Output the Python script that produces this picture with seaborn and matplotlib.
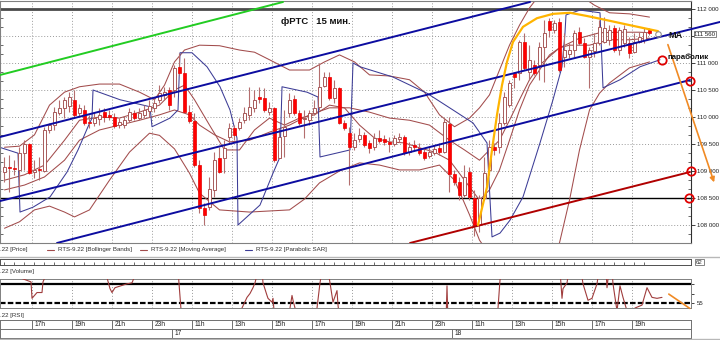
import matplotlib
matplotlib.use("Agg")
import matplotlib.pyplot as plt
import numpy as np
import seaborn as sns
from matplotlib.lines import Line2D

# ---------------- data (15-min candles, RTS-9.22) ----------------
opens = [108980,109070,109060,109020,109330,109500,108980,109020,109000,109760,
         109850,110070,110170,110200,110320,110070,110130,109900,109890,109960,
         110090,110040,110000,109850,109850,109940,110070,109980,110040,110110,
         110170,110320,110410,110500,110500,110930,110820,110090,109930,109110,
         108320,108330,108650,109240,109240,109630,109800,109800,109940,110040,
         110170,110370,110350,110090,110170,109240,109650,110070,110330,110070,
         109960,109940,110070,110190,110570,110740,110350,110540,109890,109700,
         109440,109590,109670,109520,109440,109610,109590,109540,109500,109590,
         109630,109350,109480,109430,109350,109280,109330,109430,109350,109870,
         108940,108800,108560,108980,108500,108000,108500,109020,109440,109440,
         109890,110220,110820,110820,111390,110830,110960,110960,111300,111780,
         111610,111760,111110,111160,111240,111570,111370,111110,111220,111370,
         111390,111430,111650,111240,111370,111370,111200,111390,111430,111610]
highs = [109260,109300,109200,109440,109570,109520,109200,109260,109820,109890,
         110190,110320,110370,110460,110500,110240,110220,110040,110090,110170,
         110170,110130,110070,109980,110020,110170,110130,110170,110220,110320,
         110370,110590,110560,110560,110960,111190,111090,110220,110070,109200,
         108410,108890,109350,109440,109570,109890,109850,109980,110190,110560,
         110500,110560,110540,110280,110190,109800,110130,110440,110410,110130,
         110130,110130,110320,111000,110830,110830,110690,110560,109940,109820,
         109700,109800,109720,109570,109700,109760,109670,109630,109670,109700,
         109670,109540,109570,109520,109430,109440,109480,109520,109980,110000,
         109020,108890,109110,109070,108650,108560,109260,109570,109520,110070,
         110460,110690,110830,111430,111560,111330,111060,111390,111800,111830,
         111800,111830,111560,111370,111610,111670,111460,111300,111560,111800,
         111850,111700,111700,111670,111700,111480,111560,111570,111650,111650]
lows = [108800,108610,108930,108700,109020,108940,108870,108830,108980,109700,
        109760,110040,109980,110090,110000,110020,109850,109800,109830,109850,
        109910,109940,109800,109800,109800,109910,109940,109940,109980,110000,
        110090,110260,110320,110130,110370,110780,110070,109890,109070,108220,
        108000,108280,108520,108960,108960,109520,109570,109760,109890,109940,
        110090,110260,110090,110040,109170,109240,109260,110000,110040,109850,
        109610,109850,110040,110130,110560,110320,110260,109870,109760,108740,
        109390,109540,109440,109330,109390,109520,109480,109350,109460,109540,
        109300,109300,109390,109300,109200,109240,109300,109300,109330,108610,
        108740,108460,108520,108460,107800,107870,108460,108930,109300,109330,
        109850,110190,110540,110690,110870,110690,110780,110690,110650,111480,
        111560,110830,110930,111090,111110,111330,111090,110540,111110,111330,
        111370,111330,111200,111150,111300,111090,111190,111370,111370,111520]
closes = [109070,109060,109040,109330,109500,108960,109020,109010,109760,109850,
          110090,110170,110320,110370,110040,110170,109890,109880,109980,110040,
          110000,110000,109830,109910,109940,110090,109980,110070,110130,110200,
          110260,110440,110460,110220,110910,110820,110090,109930,109110,108320,
          108190,108670,109200,108980,109430,109800,109670,109910,110070,110190,
          110320,110330,110130,110170,109200,109630,109820,110320,110070,109890,
          109980,110070,110170,110560,110740,110350,110540,109890,109800,109440,
          109570,109670,109480,109430,109610,109560,109530,109500,109610,109630,
          109330,109440,109440,109330,109240,109350,109410,109350,109910,108940,
          108800,108560,108890,108520,108000,108500,108960,109440,109390,109890,
          110370,110630,110740,111390,110910,111060,110820,111300,111560,111610,
          111740,110870,111240,111240,111560,111370,111110,111240,111370,111670,
          111650,111610,111240,111610,111630,111190,111390,111480,111570,111560]

# Bollinger bands / moving average / parabolic SAR
ub_k = [0, 3, 6, 9, 12, 15, 19, 23, 27, 30, 32, 34, 36, 39, 43, 47, 50, 53, 57, 61, 64, 67,
        70, 73, 77, 81, 84, 87, 90, 93, 95, 97, 99, 101, 103, 105, 107, 111, 115, 118, 121, 125, 129]
ub_v = [109440, 109460, 109670, 110220, 110460, 110560, 110610, 110610, 110460, 110320, 110590,
        111020, 111240, 111330, 111320, 111240, 111200, 111060, 110870, 110870, 111020, 111150,
        111020, 110780, 110760, 110690, 110460, 110040, 109820, 109980, 110170, 110410, 110870,
        111330, 111700, 112020, 112260, 112350, 112260, 112070, 111930, 111910, 111850]
mb_k = [0, 4, 8, 12, 15, 19, 23, 27, 31, 34, 37, 39, 42, 45, 49, 53, 57, 61, 65, 69, 73, 77,
        81, 85, 89, 92, 95, 97, 99, 101, 103, 105, 107, 111, 115, 119, 123, 127, 129]
mb_v = [108650, 108740, 108890, 109200, 109570, 109760, 109850, 109940, 110040, 110130, 110040,
        109850, 109670, 109540, 109570, 109720, 109850, 110040, 110170, 110170, 110090, 109980,
        109940, 109850, 109570, 109390, 109200, 109390, 109570, 109940, 110320, 110690, 110960,
        111280, 111460, 111560, 111570, 111570, 111560]
lb_k = [0, 3, 6, 9, 12, 14, 17, 21, 25, 29, 31, 34, 37, 39, 43, 49, 53, 57, 60, 63, 67, 71,
        75, 79, 83, 87, 90, 93, 95, 97, 101, 105, 109, 111, 113, 115, 117, 119, 121, 125, 129]
lb_v = [107940, 108060, 108280, 108350, 108240, 108150, 108280, 108830, 109350, 109700, 109660,
        109410, 108960, 108590, 108280, 108240, 108260, 108280, 108480, 108780, 109000, 109150,
        109110, 109020, 109020, 109110, 108830, 108190, 107720, 107450, 107260, 107170,
        107350, 107670, 108460, 109390, 110130, 110440, 110630, 110910, 111020]
ma_k = [0, 4, 8, 12, 15, 19, 23, 27, 31, 34, 36, 38, 41, 44, 47, 50, 53, 56, 59, 62, 65, 68,
        71, 74, 77, 80, 83, 86, 89, 92, 95, 97, 99, 101, 103, 105, 107, 109, 111, 113, 117, 121, 125, 129]
ma_v = [108830, 108930, 109110, 109570, 109940, 110000, 109980, 110090, 110220, 110500, 110590,
        110320, 109850, 109390, 109390, 109760, 109980, 109850, 109980, 110040, 110220, 110170,
        109850, 109610, 109540, 109520, 109430, 109350, 109200, 108830, 108460, 108650, 109020,
        109570, 110130, 110590, 110870, 111150, 111280, 111330, 111330, 111430, 111430, 111460]
sar_k = [-1, 2.7, 3.1, 5.7, 9.1, 12.5, 14.7, 16.7, 17.5, 17.7, 23.1, 29.1, 29.5, 31.1, 33.1,
         34.7, 35.1, 37.5, 40.5, 43.1, 45.1, 46.5, 46.7, 51.1, 53.7, 55.1, 55.5, 60.5, 62.7,
         63.1, 69.1, 69.7, 71.1, 77.7, 84.5, 89.7, 93.7, 96.5, 97.5, 99.1, 101.1, 103.7, 107.1,
         109.7, 111.5, 112.1, 112.3, 115.1, 119.1, 119.7, 123.1, 127.1, 131.1]
sar_v = [109440, 109330, 108240, 108330, 108520, 108980, 109390, 109820, 109980, 110500, 110320,
         110190, 109820, 109890, 109980, 110130, 111190, 111190, 110930, 110560, 110130, 109610,
         108000, 108370, 108960, 109260, 110560, 110460, 110370, 109260, 109390, 111000, 110930,
         110740, 110440, 110130, 109890, 109520, 107780, 107850, 108090, 108520, 109520, 110320,
         110930, 111560, 111890, 111980, 111930, 110540, 110690, 110930, 111060]

# lower indicator panel
rsi_k = [-0.9, 5.3, 5.5, 6.5, 7.5, 7.7, 8.7, 20.1, 21.1, 21.5, 22.1, 24.5, 25.5, 26.5, 34.7,
         35.5, 47.1, 47.5, 48.5, 49.1, 49.7, 50.1, 50.7, 51.5, 51.7, 52.5, 52.7, 53.5, 53.7, 54.1,
         56.7, 57.1, 57.5, 57.7, 58.1, 58.5, 62.1, 62.5, 63.1, 63.5, 64.7, 65.1, 65.7, 66.5, 66.7,
         67.1, 88.3, 88.5, 88.7, 98.5, 99.1, 99.7, 111.1, 111.5, 111.7, 112.5, 112.9, 115.3, 115.7,
         116.7, 117.5, 118.5, 118.9, 120.3, 120.5, 120.9, 121.5, 121.7, 122.5, 123.1, 123.7, 124.5,
         125.3, 126.1, 127.5, 128.5, 129.5, 130.5, 131.5]
rsi_v = [72, 66, 57.5, 60.5, 60.5, 66, 72, 72, 62.5, 60.5, 63, 65, 65.5, 72, 72,
         45, 45, 52.5, 58, 60, 63, 65.5, 72, 72, 65.5, 59, 57.5, 55.5, 57.5, 45,
         45, 52.5, 59, 56.5, 52.5, 48, 48, 52.5, 65.5, 72, 72, 65.5, 55.5, 61.5, 54,
         45, 45, 64, 45, 45, 67, 72, 72, 57.5, 62.5, 65.5, 72, 72, 65,
         56.5, 57.5, 65, 72, 72, 63, 72, 72, 65, 51, 64, 58, 51,
         48, 52.5, 54, 63, 58, 57.5, 58]

time_labels = ["17h", "19h", "21h", "23h", "11h", "13h", "15h", "17h",
               "19h", "21h", "23h", "11h", "13h", "15h", "17h", "19h"]
day_labels = ["17", "18"]
price_ticks = [108000, 108500, 109000, 109500, 110000, 110500, 111000, 111500, 112000]
last_price = 111560

# hand-drawn annotations (candle index, price)
arc_k = [94.7, 96.5, 97.5, 98.5, 99.5, 100.5, 101.7, 103.7, 106.5, 109.7, 113.1, 116.5, 119.1, 125.1, 130.7]
arc_v = [108000, 108700, 109390, 110040, 110590, 111020, 111390, 111670, 111830, 111910, 111930,
         111870, 111820, 111700, 111590]

# ---------------- figure ----------------
sns.set_theme(style="white")
plt.rcParams['font.family'] = ['Liberation Sans', 'DejaVu Sans']

W, H = 720.0, 340.0
fig = plt.figure(figsize=(7.2, 3.4), dpi=100)
fig.patch.set_facecolor('white')


def box(x0, y0, x1, y1):
    return [x0 / W, 1 - y1 / H, (x1 - x0) / W, (y1 - y0) / H]


def P(x, y):
    return (x / W, 1 - y / H)


XL = (-0.9, 137.3)
grid_k = [5.5 + 8 * j for j in range(len(time_labels))]
day_k = [33.5, 89.5]

BROWN = '#a24c4c'
NAVY = '#3c3c96'
BLUE = '#0c0ca0'
SMALL = 4.4

ax = fig.add_axes(box(0, 1, 691, 243))
ax.set_facecolor('white')
ax.set_xlim(*XL)
ax.set_ylim(107667, 112148)

# grid + price scale (the 111 500 label sits under the last-price box)
ax.set_xticks(grid_k)
ax.set_yticks(price_ticks)
ax.set_yticklabels(["" if v == 111500 else f"{v:,}".replace(",", " ") for v in price_ticks])
ax.yaxis.tick_right()
ax.grid(True, color='#9a9a9a', lw=0.7, ls=(0, (1, 2)))
ax.tick_params(axis='x', length=0, labelbottom=False)
ax.tick_params(axis='y', which='major', length=3, width=0.7, color='#404040',
               labelsize=SMALL, labelcolor='#202020', pad=1.5)
ax.yaxis.set_minor_locator(matplotlib.ticker.MultipleLocator(500 / 3))
ax.tick_params(axis='y', which='minor', left=True, right=True, direction='in', length=2,
               width=0.6, color='#505050')
for s, sp in ax.spines.items():
    sp.set_color('#808080')
    sp.set_linewidth(0.8)
ax.spines['right'].set_color('#303030')

# horizontal levels
ax.axhline(112000, color='#4a4a4a', lw=2.0, zorder=2)
ax.axhline(108500, color='black', lw=1.0, zorder=2)

# indicators
for kk, vv in [(ub_k, ub_v), (mb_k, mb_v), (lb_k, lb_v), (ma_k, ma_v)]:
    sns.lineplot(x=kk, y=vv, ax=ax, color=BROWN, lw=0.75, estimator=None, sort=False,
                 legend=False, zorder=2)
sns.lineplot(x=sar_k, y=sar_v, ax=ax, color=NAVY, lw=0.75, estimator=None, sort=False,
             legend=False, zorder=2)

# candles
k = np.arange(len(closes))
o = np.array(opens, float)
c = np.array(closes, float)
hi = np.array(highs, float)
lo = np.array(lows, float)
up = c >= o
ax.vlines(k, lo, hi, color='#b46e6e', lw=0.8, zorder=3)
body_lo = np.minimum(o, c)
body_h = np.maximum(np.abs(c - o), 18)
ax.bar(k[up], body_h[up], bottom=body_lo[up], width=0.66, facecolor='white',
       edgecolor='#a85a5a', lw=0.7, zorder=4)
ax.bar(k[~up], body_h[~up], bottom=body_lo[~up], width=0.66, facecolor='#ff0000',
       edgecolor='#e80000', lw=0.5, zorder=4)

# trend channel
ax.plot([-0.9, 55.7], [110778, 112130], color='#22cc22', lw=1.4, zorder=5)
ax.plot([-0.9, 105.1], [109630, 112130], color=BLUE, lw=1.4, zorder=5)
ax.plot([-0.9, 143.1], [108444, 111760], color=BLUE, lw=1.4, zorder=5, clip_on=False)
ax.plot([10.5, 137.1], [107667, 110685], color=BLUE, lw=1.4, zorder=5)
ax.plot([81.1, 137.1], [107667, 108982], color='#b00000', lw=1.4, zorder=5)

# yellow arc
ax.plot(arc_k, arc_v, color='#ffb400', lw=1.6, zorder=6, solid_capstyle='round')

# orange arrow
ax.annotate('', xy=(142.1, 108741), xytext=(132.5, 111389),
            arrowprops=dict(arrowstyle='-|>', color='#f08a24', lw=1.2, mutation_scale=7),
            annotation_clip=False, zorder=7)

# circles
ax.plot([131.5, 137.1, 137.3, 136.9], [111056, 110667, 109000, 108500], 'o', ms=6,
        mfc='none', mec='#e00000', mew=1.3, clip_on=False, zorder=8)
ax.plot([130.7], [111537], 'o', ms=4, mfc='none', mec='#909090', mew=0.8, zorder=8)

# texts on chart
fig.text(*P(316, 22), "фРТС   15 мин.", fontsize=6.8, fontweight='bold', ha='center',
         va='center', color='#111111')
fig.text(*P(668, 35), "MA", fontsize=6.6, fontweight='bold', ha='left', va='center',
         color='#111111')
fig.text(*P(667, 57), "параболик", fontsize=5.7, fontweight='bold', ha='left', va='center',
         color='#111111')
fig.text(*P(694.5, 34), f"{last_price:,}".replace(",", " "), fontsize=SMALL, ha='left',
         va='center', color='#202020',
         bbox=dict(boxstyle='square,pad=0.15', fc='white', ec='#707070', lw=0.6), zorder=10)

# ---------------- legend row ----------------
small = dict(fontsize=SMALL, color='#303030', va='center')
fig.text(*P(0.5, 250), ".22 [Price]", ha='left', **small)
for x0, lab, col in [(47, "RTS-9.22 [Bollinger Bands]", BROWN),
                     (140, "RTS-9.22 [Moving Average]", BROWN),
                     (245, "RTS-9.22 [Parabolic SAR]", NAVY)]:
    fig.add_artist(Line2D([x0 / W, (x0 + 7) / W], [1 - 250 / H] * 2, color=col, lw=0.8))
    fig.text(*P(x0 + 11, 250), lab, ha='left', **small)

fig.add_artist(Line2D([0, 1], [1 - 256.5 / H] * 2, color='#b8b8b8', lw=1.0))
fig.add_artist(Line2D([0, 1], [1 - 339 / H] * 2, color='#b8b8b8', lw=1.0))

# thin strip panel
axs = fig.add_axes(box(0, 259, 691, 264.5))
axs.set_xlim(*XL)
axs.set_ylim(0, 1)
axs.set_xticks([])
axs.set_yticks([])
axs.set_facecolor('white')
for sp in axs.spines.values():
    sp.set_color('#505050')
    sp.set_linewidth(0.7)
axs.vlines(np.arange(0, 130, 2), 0, 0.45, color='#505050', lw=0.6)
fig.text(*P(696, 262), "62", fontsize=SMALL, ha='left', va='center', color='#303030',
         bbox=dict(boxstyle='square,pad=0.15', fc='white', ec='#707070', lw=0.6))

fig.text(*P(0.5, 271), ".22 [Volume]", ha='left', **small)

# RSI-like panel
axr = fig.add_axes(box(0, 279, 691, 308))
axr.set_xlim(*XL)
axr.set_ylim(52.5, 67.5)
axr.set_facecolor('white')
axr.set_xticks(grid_k)
axr.grid(True, axis='x', color='#9a9a9a', lw=0.7, ls=(0, (1, 2)))
axr.tick_params(axis='x', length=0, labelbottom=False)
axr.yaxis.tick_right()
axr.set_yticks([55, 60, 65])
axr.set_yticklabels(["55", "", ""])
axr.tick_params(axis='y', length=2.5, width=0.6, labelsize=SMALL, labelcolor='#202020', pad=1.5)
for sp in axr.spines.values():
    sp.set_color('#808080')
    sp.set_linewidth(0.7)
axr.axhline(65, color='black', lw=1.6, zorder=2)
axr.axhline(55, color='black', lw=1.6, ls=(0, (2.5, 1)), zorder=2)
sns.lineplot(x=rsi_k, y=rsi_v, ax=axr, color='#a03c3c', lw=0.8, estimator=None, sort=False,
             legend=False, zorder=3)
axr.annotate('', xy=(137.5, 51.5), xytext=(132.4, 60.5),
             arrowprops=dict(arrowstyle='-', color='#f08a24', lw=1.2),
             annotation_clip=False)

fig.text(*P(0.5, 316), ".22 [RSI]", ha='left', **small)

# time axis
axt = fig.add_axes(box(0, 320, 691, 338))
axt.set_xlim(*XL)
axt.set_ylim(0, 2)
axt.set_xticks([])
axt.set_yticks([])
axt.set_facecolor('white')
for sp in axt.spines.values():
    sp.set_color('#707070')
    sp.set_linewidth(0.7)
axt.axhline(1, color='#707070', lw=0.7)
tl = dict(fontsize=4.8, color='#202020', va='center', ha='left')
for xb, lab in zip(grid_k, time_labels):
    axt.plot([xb, xb], [1, 2], color='#707070', lw=0.7)
    axt.text(xb + 0.5, 1.5, lab, **tl)
for xb, lab in zip(day_k, day_labels):
    axt.plot([xb, xb], [0, 1], color='#707070', lw=0.7)
    axt.text(xb + 0.5, 0.5, lab, **tl)

fig.savefig("out.png", dpi=100, facecolor='white')
